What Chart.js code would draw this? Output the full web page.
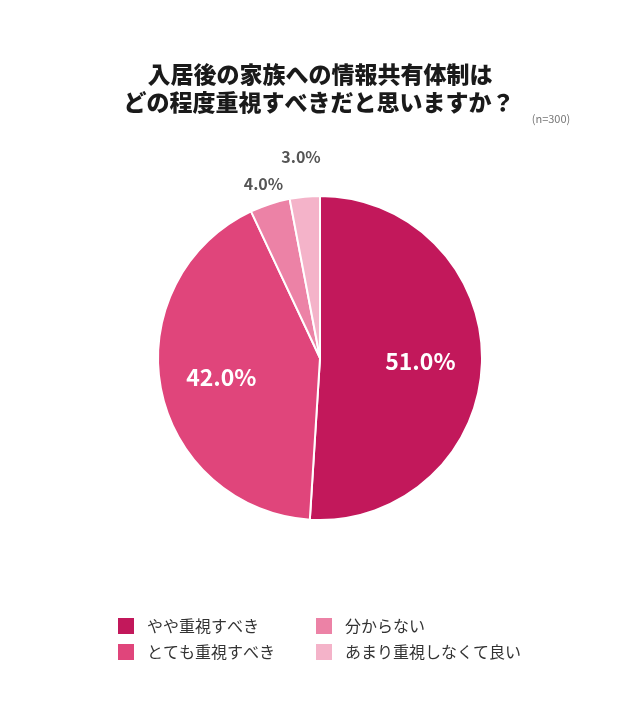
<!DOCTYPE html>
<html><head><meta charset="utf-8">
<script src="https://cdn.jsdelivr.net/npm/chart.js@4"></script>
<style>html,body{margin:0;padding:0;background:#fff}#wrap{width:640px;height:704px;position:relative}</style>
</head><body><div id="wrap"><canvas id="c" width="640" height="704"></canvas></div>
<script>
const titleLines = ['入居後の家族への情報共有体制は', 'どの程度重視すべきだと思いますか？'];
const sampleNote = '(n=300)';
const categories = ['やや重視すべき', 'とても重視すべき', '分からない', 'あまり重視しなくて良い'];
const values = [51.0, 42.0, 4.0, 3.0];
const colors = ['#C2185B', '#E0457B', '#EC82A6', '#F4B3C9'];

const FONT = '"Noto Sans CJK JP", "Noto Sans", sans-serif';

const drawPlugin = {
  id: 'custom',
  afterDraw(chart) {
    const ctx = chart.ctx;
    ctx.save();
    // title
    ctx.fillStyle = '#1a1a1a';
    ctx.textAlign = 'center';
    ctx.textBaseline = 'middle';
    ctx.font = '900 23px ' + FONT;
    ctx.fillText(titleLines[0], 320, 74);
    ctx.fillText(titleLines[1], 319, 102);
    ctx.font = '11px ' + FONT;
    ctx.fillStyle = '#777';
    ctx.fillText(sampleNote, 551, 119);

    // slice labels
    const meta = chart.getDatasetMeta(0);
    const outside = [null, null, 21, 40];
    meta.data.forEach((arc, i) => {
      const mid = (arc.startAngle + arc.endAngle) / 2;
      const R = arc.outerRadius;
      let r, font, color;
      if (outside[i] === null) { r = R * 0.62; font = 'bold 23px ' + FONT; color = '#fff'; }
      else { r = R + outside[i]; font = 'bold 16px ' + FONT; color = '#555'; }
      ctx.font = font; ctx.fillStyle = color;
      ctx.fillText(values[i].toFixed(1) + '%', arc.x + r * Math.cos(mid), arc.y + r * Math.sin(mid));
    });

    // legend (2 columns, column-major)
    ctx.textAlign = 'left';
    ctx.font = '16px ' + FONT;
    categories.forEach((lab, i) => {
      const col = Math.floor(i / 2), row = i % 2;
      const x = 118 + col * 198, y = 626 + row * 26;
      ctx.fillStyle = colors[i];
      ctx.fillRect(x, y - 8, 16, 16);
      ctx.fillStyle = '#333';
      ctx.fillText(lab, x + 29, y);
    });
    ctx.restore();
  }
};

new Chart(document.getElementById('c'), {
  type: 'pie',
  data: { labels: categories, datasets: [{ data: values, backgroundColor: colors, borderColor: '#fff', borderWidth: 2 }] },
  options: {
    responsive: false,
    animation: false,
    layout: { padding: { top: 195, bottom: 183, left: 0, right: 0 } },
    plugins: { legend: { display: false }, tooltip: { enabled: false }, title: { display: false } }
  },
  plugins: [drawPlugin]
});
</script></body></html>
